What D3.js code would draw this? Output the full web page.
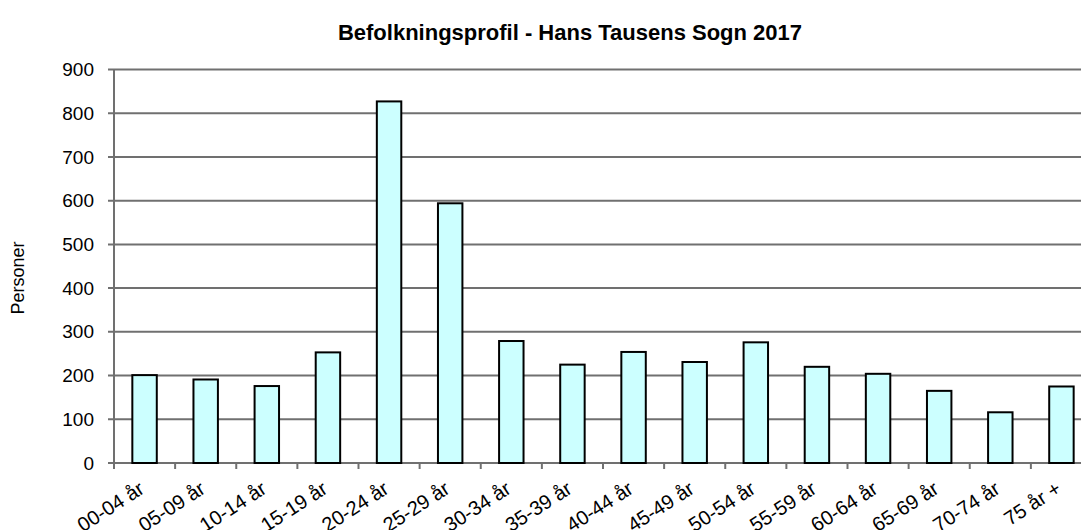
<!DOCTYPE html>
<html>
<head>
<meta charset="utf-8">
<script src="https://cdn.jsdelivr.net/npm/d3@7"></script>
<style>
	body { margin: 0; background: #fff; }
	text { font-family: "Liberation Sans", Arial, sans-serif; fill: #000; }
</style>
</head>
<body>
<svg id="chart"></svg>
<script>
	var categories = ["00-04 år", "05-09 år", "10-14 år", "15-19 år", "20-24 år", "25-29 år", "30-34 år", "35-39 år",
		"40-44 år", "45-49 år", "50-54 år", "55-59 år", "60-64 år", "65-69 år", "70-74 år", "75 år +"];
	var personer = [201, 191, 176, 253, 827, 594, 279, 225, 254, 231, 276, 220, 204, 165, 116, 175];
	var yTicks = [0, 100, 200, 300, 400, 500, 600, 700, 800, 900];
	var title = "Befolkningsprofil - Hans Tausens Sogn 2017";
	var yTitle = "Personer";

	var width = 1081;
	var height = 530;
	var svg = d3.select("#chart").attr("width", width).attr("height", height);

	var plotLeft = 114, plotRight = 1092, plotTop = 69.5, plotBottom = 463;
	var gridColor = "#707070";

	var x = d3.scaleBand().domain(categories).range([plotLeft, plotRight]).paddingInner(0.6).paddingOuter(0.3);
	var y = d3.scaleLinear().domain([0, 900]).range([plotBottom, plotTop]);

	// gridlines
	svg.append("g").selectAll("line").data(yTicks).enter().append("line")
		.attr("x1", plotLeft - 6).attr("x2", plotRight)
		.attr("y1", function(d) { return y(d); })
		.attr("y2", function(d) { return y(d); })
		.style("stroke", gridColor).style("stroke-width", 2);

	// y axis line
	svg.append("line").attr("x1", plotLeft).attr("x2", plotLeft).attr("y1", plotTop).attr("y2", plotBottom + 6)
		.style("stroke", gridColor).style("stroke-width", 2);

	// y tick labels
	svg.append("g").selectAll("text").data(yTicks).enter().append("text")
		.attr("x", plotLeft - 20)
		.attr("y", function(d) { return y(d); })
		.attr("dy", "0.35em")
		.attr("text-anchor", "end")
		.style("font-size", "19px")
		.text(function(d) { return d; });

	// x ticks at band boundaries
	svg.append("g").selectAll("line").data(categories).enter().append("line")
		.attr("x1", function(d) { return x(d) - x.step() * 0.3; })
		.attr("x2", function(d) { return x(d) - x.step() * 0.3; })
		.attr("y1", plotBottom).attr("y2", plotBottom + 6)
		.style("stroke", gridColor).style("stroke-width", 2);

	// bars
	svg.append("g").selectAll("rect").data(personer).enter().append("rect")
		.attr("x", function(d, i) { return x(categories[i]); })
		.attr("y", function(d) { return y(d); })
		.attr("width", x.bandwidth())
		.attr("height", function(d) { return y(0) - y(d); })
		.style("fill", "#ccffff")
		.style("stroke", "#000")
		.style("stroke-width", 2);

	// x labels, rotated
	svg.append("g").selectAll("text").data(categories).enter().append("text")
		.attr("transform", function(d) {
			var cx = x(d) + x.bandwidth() / 2 + 1;
			return "translate(" + cx + "," + (plotBottom + 29) + ") rotate(-33)";
		})
		.attr("text-anchor", "end")
		.style("font-size", "20px")
		.text(function(d) { return d; });

	// title
	svg.append("text").attr("x", 570).attr("y", 40)
		.attr("text-anchor", "middle")
		.style("font-size", "22px").style("font-weight", "bold")
		.text(title);

	// y title
	svg.append("text")
		.attr("transform", "translate(24,278) rotate(-90)")
		.attr("text-anchor", "middle")
		.style("font-size", "18px")
		.text(yTitle);
</script>
</body>
</html>
